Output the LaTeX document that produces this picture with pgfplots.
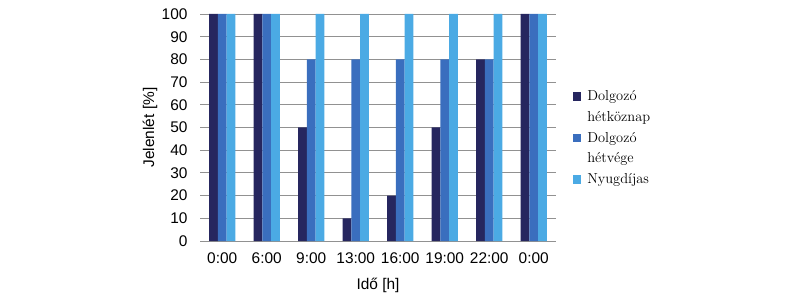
\documentclass[border=0pt]{standalone}
\usepackage{fontspec}
\setsansfont{Liberation Sans}
\usepackage{pgfplots}
\pgfplotsset{compat=1.18}
\definecolor{c1}{RGB}{38,38,95}
\definecolor{c2}{RGB}{58,110,190}
\definecolor{c3}{RGB}{75,170,228}
\definecolor{gridc}{RGB}{145,145,145}
\newcommand\lf{\rmfamily\fontsize{14.5}{17}\selectfont}
\pgfplotsset{sq/.style={legend image code/.code={\draw[##1,draw=none] (0bp,0bp) rectangle (8bp,8.5bp);}}}
\begin{document}
\begin{tikzpicture}[x=1bp,y=1bp]
\path (0,0) rectangle (800,300);
\begin{axis}[
  at={(200bp,59bp)}, anchor=south west,
  scale only axis, width=356bp, height=227bp,
  ybar=0pt, bar width=8.8bp,
  xmin=-0.5, xmax=7.5, ymin=0, ymax=100,
  xtick={0,...,7},
  xticklabels={0:00,6:00,9:00,13:00,16:00,19:00,22:00,0:00},
  ytick={0,10,...,100},
  ymajorgrids, grid style={gridc, line width=0.9bp},
  axis line style={draw=none},
  major tick length=0pt,
  /pgf/number format/assume math mode=true,
  tick label style={font=\sffamily\fontsize{15.5}{17}\selectfont},
  yticklabel style={xshift=-9bp},
  xticklabel style={yshift=-8bp},
  xlabel={Idő [h]}, ylabel={Jelenlét [\%]},
  label style={font=\sffamily\fontsize{15.5}{17}\selectfont},
  xlabel style={at={(axis description cs:0.5,-0.195)}, anchor=center},
  ylabel style={at={(axis description cs:-0.14,0.5)}, anchor=center},
  legend style={at={(axis description cs:1.048,0.66)}, anchor=north west,
    draw=none, fill=none, inner sep=0pt, row sep=8.2bp, column sep=0bp,
    font=\lf,
    nodes={inner sep=0pt, text height=9.5bp, text depth=3bp, font=\lf},
    cells={anchor=base west},
    /tikz/every odd column/.append style={column sep=6bp}},
]
\addplot[fill=c1, draw=none, sq] coordinates {(0,100) (1,100) (2,50) (3,10) (4,20) (5,50) (6,80) (7,100)};
\addlegendentry{\lf Dolgozó}
\addlegendimage{empty legend}
\addlegendentry{\lf hétköznap}
\addplot[fill=c2, draw=none, sq] coordinates {(0,100) (1,100) (2,80) (3,80) (4,80) (5,80) (6,80) (7,100)};
\addlegendentry{\lf Dolgozó}
\addlegendimage{empty legend}
\addlegendentry{\lf hétvége}
\addplot[fill=c3, draw=none, sq] coordinates {(0,100) (1,100) (2,100) (3,100) (4,100) (5,100) (6,100) (7,100)};
\addlegendentry{\lf Nyugdíjas}
\end{axis}
\end{tikzpicture}
\end{document}
